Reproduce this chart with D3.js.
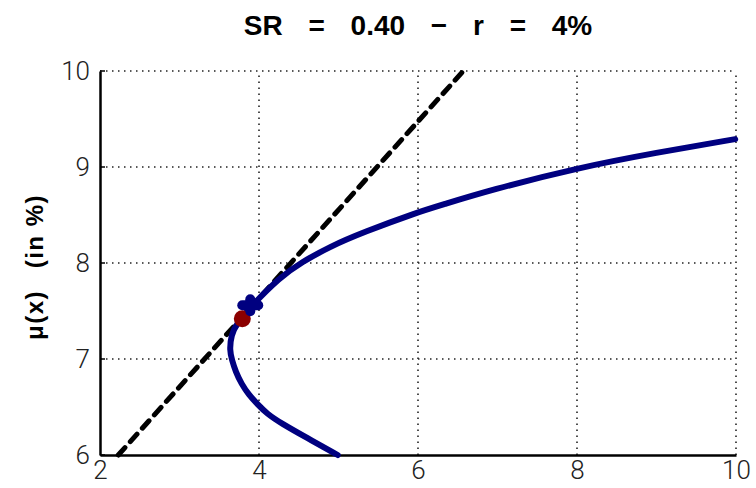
<!DOCTYPE html>
<html>
<head>
<meta charset="utf-8">
<script src="https://cdn.jsdelivr.net/npm/d3@7"></script>
<style>
  body { margin: 0; background: #fff; }
  svg { display: block; }
</style>
</head>
<body>
<div id="chart"></div>
<script>
// efficient frontier (sigma, mu in %)
var frontierSigma = [4.99, 4.60, 4.28, 4.10, 3.98, 3.87, 3.78, 3.705, 3.66, 3.63, 3.65, 3.72, 3.89, 4.26, 4.54, 4.89, 5.31, 6.00, 6.28, 6.91, 8.00, 9.00, 9.99];
var frontierMu    = [6.00, 6.18, 6.33, 6.43, 6.53, 6.63, 6.74, 6.87, 6.99, 7.09, 7.25, 7.37, 7.54, 7.85, 8.01, 8.17, 8.32, 8.53, 8.60, 8.76, 8.99, 9.15, 9.29];

// tangent line through r
var lineSigma = [2.23, 6.57];
var lineMu = [6, 10];

// markers
var tangentPoint = [3.89, 7.56];
var currentPoint = [3.79, 7.42];

var xTicks = [2, 4, 6, 8, 10];
var yTicks = [6, 7, 8, 9, 10];

var W = 756, H = 488;
var margin = { left: 100, right: 20, top: 71, bottom: 33 };

var svg = d3.select("#chart").append("svg")
    .attr("width", W)
    .attr("height", H);

var x = d3.scaleLinear().domain([2, 10]).range([margin.left, 736]);
var y = d3.scaleLinear().domain([6, 10]).range([455, margin.top]);

// grid (dotted)
svg.append("g").selectAll("line")
    .data(xTicks.slice(1))
    .enter().append("line")
    .attr("x1", d => x(d)).attr("x2", d => x(d))
    .attr("y1", y(6)).attr("y2", y(10))
    .style("stroke", "#222")
    .style("stroke-width", 1.6)
    .style("stroke-dasharray", "1.5,4.5");

svg.append("g").selectAll("line")
    .data(yTicks.slice(1))
    .enter().append("line")
    .attr("x1", x(2)).attr("x2", x(10))
    .attr("y1", d => y(d)).attr("y2", d => y(d))
    .style("stroke", "#222")
    .style("stroke-width", 1.6)
    .style("stroke-dasharray", "1.5,4.5");

// axes, solid left and bottom
var xAxis = d3.axisBottom(x).tickValues(xTicks).tickFormat(d3.format("d")).tickSize(0).tickPadding(6);
var yAxis = d3.axisLeft(y).tickValues(yTicks).tickFormat(d3.format("d")).tickSize(0).tickPadding(10);

var gx = svg.append("g").attr("transform", "translate(0," + y(6) + ")").call(xAxis);
var gy = svg.append("g").attr("transform", "translate(" + x(2) + ",0)").call(yAxis);

[gx, gy].forEach(function (g) {
    g.select(".domain").style("stroke", "#000").style("stroke-width", 2.5);
    g.selectAll("text")
        .style("font-family", "Roboto, 'Liberation Sans', sans-serif")
        .style("font-weight", 300)
        .style("font-size", "26px")
        .style("fill", "#222");
});

// small inward ticks on the left axis
svg.append("g").selectAll("line")
    .data(yTicks)
    .enter().append("line")
    .attr("x1", x(2)).attr("x2", x(2) + 5)
    .attr("y1", d => y(d)).attr("y2", d => y(d))
    .style("stroke", "#000").style("stroke-width", 1.5);

// tangent line
svg.append("path")
    .datum(lineSigma.map((s, i) => [s, lineMu[i]]))
    .attr("d", d3.line().x(d => x(d[0])).y(d => y(d[1])))
    .style("fill", "none")
    .style("stroke", "#000")
    .style("stroke-width", 5)
    .style("stroke-dasharray", "10,8")
    .style("stroke-linecap", "round");

// frontier
svg.append("path")
    .datum(frontierSigma.map((s, i) => [s, frontierMu[i]]))
    .attr("d", d3.line().curve(d3.curveBasis).x(d => x(d[0])).y(d => y(d[1])))
    .style("fill", "none")
    .style("stroke", "#000080")
    .style("stroke-width", 6)
    .style("stroke-linecap", "round");

// red dot
svg.append("circle")
    .attr("cx", x(currentPoint[0]))
    .attr("cy", y(currentPoint[1]))
    .attr("r", 8.5)
    .style("fill", "#8b0000");

// blue star (plus with round ends)
var sx = x(tangentPoint[0]), sy = y(tangentPoint[1]);
var star = svg.append("g").attr("transform", "translate(" + sx + "," + sy + ")");
[[-8, 0, 8, 0], [0, -6, 0, 6]].forEach(function (p) {
    star.append("line")
        .attr("x1", p[0]).attr("y1", p[1]).attr("x2", p[2]).attr("y2", p[3])
        .style("stroke", "#000080")
        .style("stroke-width", 10)
        .style("stroke-linecap", "round");
});

// title
svg.append("text")
    .attr("x", 418)
    .attr("y", 35)
    .attr("text-anchor", "middle")
    .style("font-family", "'Liberation Sans', Arial, sans-serif")
    .style("font-weight", "bold")
    .style("font-size", "28px")
    .style("word-spacing", "18px")
    .text("SR = 0.40 \u2212 r = 4%");

// y label
svg.append("text")
    .attr("transform", "translate(43,267) rotate(-90)")
    .attr("text-anchor", "middle")
    .style("font-family", "'Liberation Sans', Arial, sans-serif")
    .style("font-weight", "bold")
    .style("font-size", "24px")
    .style("letter-spacing", "1.5px")
    .text("\u03bc(x) \u2002(in %)");
</script>
</body>
</html>
